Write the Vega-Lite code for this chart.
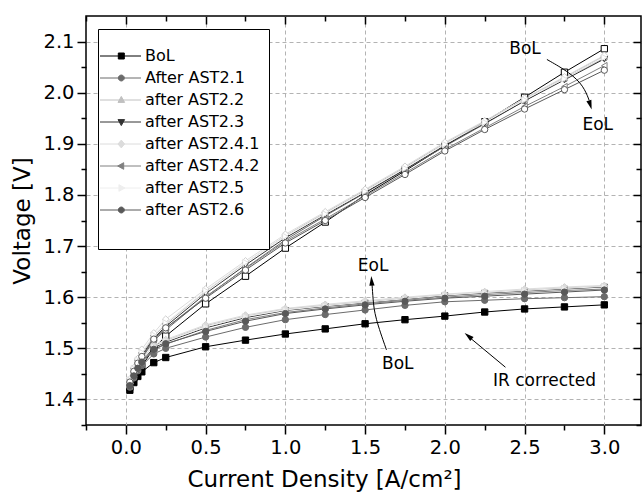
{
  "$schema": "https://vega.github.io/schema/vega-lite/v6.json",
  "width": 555,
  "height": 409,
  "autosize": {"type": "none"},
  "padding": {"left": 86, "top": 16, "right": 1, "bottom": 76},
  "background": "white",
  "config": {
    "view": {"stroke": "black", "strokeWidth": 1.5},
    "font": "DejaVu Sans",
    "axis": {
      "labelFont": "DejaVu Sans", "labelFontSize": 19.5, "labelColor": "black",
      "titleFont": "DejaVu Sans", "titleFontSize": 23, "titleFontWeight": "normal", "titleColor": "black",
      "tickColor": "black", "tickWidth": 1.5, "domain": false,
      "gridColor": "#b3b3b3", "gridDash": [4, 3], "gridWidth": 1
    }
  },
  "datasets": {
    "pol": [
      {"s":"BoL","j":0.025,"r":1.424,"c":1.418},{"s":"BoL","j":0.05,"r":1.442,"c":1.433},{"s":"BoL","j":0.075,"r":1.456,"c":1.445},{"s":"BoL","j":0.1,"r":1.465,"c":1.454},{"s":"BoL","j":0.175,"r":1.500,"c":1.472},{"s":"BoL","j":0.25,"r":1.524,"c":1.482},{"s":"BoL","j":0.5,"r":1.587,"c":1.503},{"s":"BoL","j":0.75,"r":1.641,"c":1.516},{"s":"BoL","j":1.0,"r":1.696,"c":1.528},{"s":"BoL","j":1.25,"r":1.747,"c":1.538},{"s":"BoL","j":1.5,"r":1.800,"c":1.548},{"s":"BoL","j":1.75,"r":1.847,"c":1.556},{"s":"BoL","j":2.0,"r":1.896,"c":1.563},{"s":"BoL","j":2.25,"r":1.943,"c":1.571},{"s":"BoL","j":2.5,"r":1.991,"c":1.577},{"s":"BoL","j":2.75,"r":2.040,"c":1.581},{"s":"BoL","j":3.0,"r":2.086,"c":1.585},
      {"s":"After AST2.1","j":0.025,"r":1.432,"c":1.424},{"s":"After AST2.1","j":0.05,"r":1.452,"c":1.442},{"s":"After AST2.1","j":0.075,"r":1.468,"c":1.456},{"s":"After AST2.1","j":0.1,"r":1.480,"c":1.466},{"s":"After AST2.1","j":0.175,"r":1.515,"c":1.489},{"s":"After AST2.1","j":0.25,"r":1.536,"c":1.500},{"s":"After AST2.1","j":0.5,"r":1.600,"c":1.522},{"s":"After AST2.1","j":0.75,"r":1.657,"c":1.541},{"s":"After AST2.1","j":1.0,"r":1.712,"c":1.556},{"s":"After AST2.1","j":1.25,"r":1.759,"c":1.566},{"s":"After AST2.1","j":1.5,"r":1.804,"c":1.575},{"s":"After AST2.1","j":1.75,"r":1.849,"c":1.584},{"s":"After AST2.1","j":2.0,"r":1.895,"c":1.591},{"s":"After AST2.1","j":2.25,"r":1.939,"c":1.594},{"s":"After AST2.1","j":2.5,"r":1.984,"c":1.597},{"s":"After AST2.1","j":2.75,"r":2.027,"c":1.599},{"s":"After AST2.1","j":3.0,"r":2.068,"c":1.601},
      {"s":"after AST2.2","j":0.025,"r":1.437,"c":1.430},{"s":"after AST2.2","j":0.05,"r":1.458,"c":1.450},{"s":"after AST2.2","j":0.075,"r":1.475,"c":1.466},{"s":"after AST2.2","j":0.1,"r":1.490,"c":1.478},{"s":"after AST2.2","j":0.175,"r":1.524,"c":1.504},{"s":"after AST2.2","j":0.25,"r":1.547,"c":1.515},{"s":"after AST2.2","j":0.5,"r":1.611,"c":1.544},{"s":"after AST2.2","j":0.75,"r":1.667,"c":1.563},{"s":"after AST2.2","j":1.0,"r":1.720,"c":1.577},{"s":"after AST2.2","j":1.25,"r":1.765,"c":1.584},{"s":"after AST2.2","j":1.5,"r":1.809,"c":1.591},{"s":"after AST2.2","j":1.75,"r":1.854,"c":1.598},{"s":"after AST2.2","j":2.0,"r":1.901,"c":1.605},{"s":"after AST2.2","j":2.25,"r":1.944,"c":1.609},{"s":"after AST2.2","j":2.5,"r":1.988,"c":1.614},{"s":"after AST2.2","j":2.75,"r":2.030,"c":1.618},{"s":"after AST2.2","j":3.0,"r":2.072,"c":1.622},
      {"s":"after AST2.3","j":0.025,"r":1.435,"c":1.428},{"s":"after AST2.3","j":0.05,"r":1.456,"c":1.448},{"s":"after AST2.3","j":0.075,"r":1.472,"c":1.463},{"s":"after AST2.3","j":0.1,"r":1.486,"c":1.475},{"s":"after AST2.3","j":0.175,"r":1.520,"c":1.501},{"s":"after AST2.3","j":0.25,"r":1.543,"c":1.512},{"s":"after AST2.3","j":0.5,"r":1.607,"c":1.540},{"s":"after AST2.3","j":0.75,"r":1.663,"c":1.560},{"s":"after AST2.3","j":1.0,"r":1.716,"c":1.574},{"s":"after AST2.3","j":1.25,"r":1.761,"c":1.582},{"s":"after AST2.3","j":1.5,"r":1.805,"c":1.589},{"s":"after AST2.3","j":1.75,"r":1.850,"c":1.596},{"s":"after AST2.3","j":2.0,"r":1.897,"c":1.603},{"s":"after AST2.3","j":2.25,"r":1.940,"c":1.608},{"s":"after AST2.3","j":2.5,"r":1.984,"c":1.612},{"s":"after AST2.3","j":2.75,"r":2.025,"c":1.616},{"s":"after AST2.3","j":3.0,"r":2.066,"c":1.620},
      {"s":"after AST2.4.1","j":0.025,"r":1.440,"c":1.431},{"s":"after AST2.4.1","j":0.05,"r":1.462,"c":1.452},{"s":"after AST2.4.1","j":0.075,"r":1.480,"c":1.468},{"s":"after AST2.4.1","j":0.1,"r":1.498,"c":1.480},{"s":"after AST2.4.1","j":0.175,"r":1.530,"c":1.506},{"s":"after AST2.4.1","j":0.25,"r":1.557,"c":1.517},{"s":"after AST2.4.1","j":0.5,"r":1.616,"c":1.546},{"s":"after AST2.4.1","j":0.75,"r":1.671,"c":1.565},{"s":"after AST2.4.1","j":1.0,"r":1.723,"c":1.578},{"s":"after AST2.4.1","j":1.25,"r":1.767,"c":1.586},{"s":"after AST2.4.1","j":1.5,"r":1.811,"c":1.593},{"s":"after AST2.4.1","j":1.75,"r":1.856,"c":1.600},{"s":"after AST2.4.1","j":2.0,"r":1.903,"c":1.606},{"s":"after AST2.4.1","j":2.25,"r":1.945,"c":1.611},{"s":"after AST2.4.1","j":2.5,"r":1.989,"c":1.616},{"s":"after AST2.4.1","j":2.75,"r":2.031,"c":1.620},{"s":"after AST2.4.1","j":3.0,"r":2.073,"c":1.623},
      {"s":"after AST2.4.2","j":0.025,"r":1.433,"c":1.426},{"s":"after AST2.4.2","j":0.05,"r":1.454,"c":1.446},{"s":"after AST2.4.2","j":0.075,"r":1.470,"c":1.460},{"s":"after AST2.4.2","j":0.1,"r":1.483,"c":1.472},{"s":"after AST2.4.2","j":0.175,"r":1.517,"c":1.497},{"s":"after AST2.4.2","j":0.25,"r":1.539,"c":1.508},{"s":"after AST2.4.2","j":0.5,"r":1.601,"c":1.535},{"s":"after AST2.4.2","j":0.75,"r":1.656,"c":1.556},{"s":"after AST2.4.2","j":1.0,"r":1.709,"c":1.570},{"s":"after AST2.4.2","j":1.25,"r":1.753,"c":1.579},{"s":"after AST2.4.2","j":1.5,"r":1.798,"c":1.587},{"s":"after AST2.4.2","j":1.75,"r":1.843,"c":1.594},{"s":"after AST2.4.2","j":2.0,"r":1.889,"c":1.600},{"s":"after AST2.4.2","j":2.25,"r":1.931,"c":1.605},{"s":"after AST2.4.2","j":2.5,"r":1.973,"c":1.609},{"s":"after AST2.4.2","j":2.75,"r":2.012,"c":1.613},{"s":"after AST2.4.2","j":3.0,"r":2.053,"c":1.616},
      {"s":"after AST2.5","j":0.025,"r":1.438,"c":1.429},{"s":"after AST2.5","j":0.05,"r":1.460,"c":1.449},{"s":"after AST2.5","j":0.075,"r":1.477,"c":1.465},{"s":"after AST2.5","j":0.1,"r":1.492,"c":1.477},{"s":"after AST2.5","j":0.175,"r":1.526,"c":1.503},{"s":"after AST2.5","j":0.25,"r":1.550,"c":1.514},{"s":"after AST2.5","j":0.5,"r":1.613,"c":1.542},{"s":"after AST2.5","j":0.75,"r":1.668,"c":1.562},{"s":"after AST2.5","j":1.0,"r":1.719,"c":1.575},{"s":"after AST2.5","j":1.25,"r":1.763,"c":1.583},{"s":"after AST2.5","j":1.5,"r":1.807,"c":1.590},{"s":"after AST2.5","j":1.75,"r":1.852,"c":1.597},{"s":"after AST2.5","j":2.0,"r":1.899,"c":1.604},{"s":"after AST2.5","j":2.25,"r":1.942,"c":1.609},{"s":"after AST2.5","j":2.5,"r":1.986,"c":1.613},{"s":"after AST2.5","j":2.75,"r":2.027,"c":1.617},{"s":"after AST2.5","j":3.0,"r":2.069,"c":1.621},
      {"s":"after AST2.6","j":0.025,"r":1.434,"c":1.427},{"s":"after AST2.6","j":0.05,"r":1.455,"c":1.446},{"s":"after AST2.6","j":0.075,"r":1.471,"c":1.461},{"s":"after AST2.6","j":0.1,"r":1.484,"c":1.473},{"s":"after AST2.6","j":0.175,"r":1.518,"c":1.498},{"s":"after AST2.6","j":0.25,"r":1.540,"c":1.509},{"s":"after AST2.6","j":0.5,"r":1.598,"c":1.533},{"s":"after AST2.6","j":0.75,"r":1.653,"c":1.553},{"s":"after AST2.6","j":1.0,"r":1.706,"c":1.568},{"s":"after AST2.6","j":1.25,"r":1.750,"c":1.577},{"s":"after AST2.6","j":1.5,"r":1.795,"c":1.585},{"s":"after AST2.6","j":1.75,"r":1.840,"c":1.592},{"s":"after AST2.6","j":2.0,"r":1.886,"c":1.598},{"s":"after AST2.6","j":2.25,"r":1.928,"c":1.602},{"s":"after AST2.6","j":2.5,"r":1.968,"c":1.606},{"s":"after AST2.6","j":2.75,"r":2.006,"c":1.610},{"s":"after AST2.6","j":3.0,"r":2.044,"c":1.614}
    ],
    "labels": [
      {"t":"BoL","j":2.503,"v":2.085},
      {"t":"EoL","j":2.959,"v":1.936},
      {"t":"EoL","j":1.55,"v":1.661},
      {"t":"BoL","j":1.705,"v":1.469},
      {"t":"IR corrected","j":2.625,"v":1.436}
    ],
    "arrows": [
      {"a":1,"k":1,"j":2.64,"v":2.065},{"a":1,"k":2,"j":2.786,"v":2.039},{"a":1,"k":3,"j":2.87,"v":2.013},{"a":1,"k":4,"j":2.905,"v":1.985},
      {"a":2,"k":1,"j":1.634,"v":1.497},{"a":2,"k":2,"j":1.561,"v":1.562},{"a":2,"k":3,"j":1.55,"v":1.595},{"a":2,"k":4,"j":1.543,"v":1.628},
      {"a":3,"k":1,"j":2.38,"v":1.463},{"a":3,"k":2,"j":2.16,"v":1.52}
    ],
    "heads": [
      {"a":1,"j":2.912,"v":1.976},
      {"a":2,"j":1.541,"v":1.632},
      {"a":3,"j":2.147,"v":1.524}
    ]
  },
  "resolve": {"axis": {"x": "independent", "y": "independent"}},
  "layer": [
    {
      "data": {"name": "pol"},
      "mark": {"type": "line", "strokeWidth": 1},
      "encoding": {
        "x": {"field": "j", "type": "quantitative",
          "scale": {"domain": [-0.25, 3.23], "nice": false, "zero": false},
          "axis": {"orient": "bottom", "values": [0, 0.5, 1, 1.5, 2, 2.5, 3], "format": ".1f", "title": "Current Density [A/cm²]", "titleX": 238, "tickSize": 9, "labelPadding": 4, "titlePadding": 12, "grid": true}},
        "y": {"field": "r", "type": "quantitative",
          "scale": {"domain": [1.35, 2.15], "nice": false, "zero": false},
          "axis": {"orient": "left", "values": [1.4, 1.5, 1.6, 1.7, 1.8, 1.9, 2.0, 2.1], "format": ".1f", "title": "Voltage [V]", "tickSize": 9, "labelPadding": 3, "titlePadding": 8, "grid": true}},
        "color": {"field": "s", "type": "nominal",
          "scale": {"domain": ["BoL","After AST2.1","after AST2.2","after AST2.3","after AST2.4.1","after AST2.4.2","after AST2.5","after AST2.6"," "],
                    "range": ["#000000","#6b6b6b","#c0c0c0","#333333","#dcdcdc","#808080","#eeeeee","#595959","#ffffff"]},
          "legend": {
            "orient": "none", "legendX": 12, "legendY": 13,
            "title": " ", "titleFontSize": 8, "titlePadding": 2,
            "padding": 9, "strokeColor": "black", "fillColor": "white",
            "symbolSize": 36, "symbolStrokeWidth": 1,
            "labelFont": "DejaVu Sans", "labelFontSize": 16, "labelColor": "black", "labelOffset": 22,
            "rowPadding": 6, "labelLimit": 300,
            "encode": {
              "symbols": {
                "update": {
                  "shape": {"signal": "datum.value === ' ' ? 'M0,0' : datum.value === 'BoL' ? 'M-5,0H8.67M1.1,-1H3.1V1H1.1Z' : (datum.value === 'After AST2.1' || datum.value === 'after AST2.6') ? 'M-5,0H8.67M3.1,0L2.97,0.5L2.6,0.87L2.1,1L1.6,0.87L1.23,0.5L1.1,0L1.23,-0.5L1.6,-0.87L2.1,-1L2.6,-0.87L2.97,-0.5Z' : datum.value === 'after AST2.2' ? 'M-5,0H8.67M2.1,-1.2L3.2,0.8L1,0.8Z' : datum.value === 'after AST2.3' ? 'M-5,0H8.67M2.1,1.2L3.2,-0.8L1,-0.8Z' : datum.value === 'after AST2.4.1' ? 'M-5,0H8.67M2.1,-1.3L3.2,0L2.1,1.3L1,0Z' : datum.value === 'after AST2.4.2' ? 'M-5,0H8.67M0.9,0L2.9,-1.1L2.9,1.1Z' : 'M-5,0H8.67M3.3,0L1.3,-1.1L1.3,1.1Z'"},
                  "fill": {"scale": "color", "field": "value"},
                  "stroke": {"scale": "color", "field": "value"},
                  "strokeWidth": {"value": 1},
                  "size": {"value": 36},
                  "opacity": {"value": 1}
                }
              }
            }
          }},
        "order": {"field": "j", "type": "quantitative"}
      }
    },
    {
      "data": {"name": "pol"},
      "mark": {"type": "line", "strokeWidth": 1},
      "encoding": {
        "x": {"field": "j", "type": "quantitative",
          "axis": {"orient": "top", "values": [0, 0.5, 1, 1.5, 2, 2.5, 3], "labels": false, "title": null, "tickSize": -8, "grid": false}},
        "y": {"field": "c", "type": "quantitative",
          "axis": {"orient": "right", "values": [1.4, 1.5, 1.6, 1.7, 1.8, 1.9, 2.0, 2.1], "labels": false, "title": null, "tickSize": -8, "grid": false}},
        "color": {"field": "s", "type": "nominal"},
        "order": {"field": "j", "type": "quantitative"}
      }
    },
    {
      "data": {"name": "pol"},
      "transform": [{"filter": "datum.s === 'BoL'"}, {"fold": ["r", "c"], "as": ["k", "v"]}],
      "mark": {"type": "point", "shape": "square", "filled": true, "stroke": "#000000", "strokeWidth": 1, "size": 40, "opacity": 1},
      "encoding": {
        "x": {"field": "j", "type": "quantitative",
          "axis": {"orient": "bottom", "values": [-0.25, 0.25, 0.75, 1.25, 1.75, 2.25, 2.75], "labels": false, "title": null, "tickSize": 5, "grid": false}},
        "y": {"field": "v", "type": "quantitative",
          "axis": {"orient": "left", "values": [1.35, 1.45, 1.55, 1.65, 1.75, 1.85, 1.95, 2.05], "labels": false, "title": null, "tickSize": 5, "grid": false}},
        "fill": {"condition": {"test": "datum.k === 'r'", "value": "white"}, "value": "#000000"}
      }
    },
    {
      "data": {"name": "pol"},
      "transform": [{"filter": "datum.s === 'After AST2.1'"}, {"fold": ["r", "c"], "as": ["k", "v"]}],
      "mark": {"type": "point", "shape": "circle", "filled": true, "stroke": "#6b6b6b", "strokeWidth": 1, "size": 40, "opacity": 1},
      "encoding": {
        "x": {"field": "j", "type": "quantitative",
          "axis": {"orient": "top", "values": [-0.25, 0.25, 0.75, 1.25, 1.75, 2.25, 2.75], "labels": false, "title": null, "tickSize": -5, "grid": false}},
        "y": {"field": "v", "type": "quantitative",
          "axis": {"orient": "right", "values": [1.35, 1.45, 1.55, 1.65, 1.75, 1.85, 1.95, 2.05], "labels": false, "title": null, "tickSize": -5, "grid": false}},
        "fill": {"condition": {"test": "datum.k === 'r'", "value": "white"}, "value": "#6b6b6b"}
      }
    },
    {
      "data": {"name": "pol"},
      "transform": [{"filter": "datum.s === 'after AST2.2'"}, {"fold": ["r", "c"], "as": ["k", "v"]}],
      "mark": {"type": "point", "shape": "triangle-up", "filled": true, "stroke": "#c0c0c0", "strokeWidth": 1, "size": 40, "opacity": 1},
      "encoding": {
        "x": {"field": "j", "type": "quantitative", "axis": null},
        "y": {"field": "v", "type": "quantitative", "axis": null},
        "fill": {"condition": {"test": "datum.k === 'r'", "value": "white"}, "value": "#c0c0c0"}
      }
    },
    {
      "data": {"name": "pol"},
      "transform": [{"filter": "datum.s === 'after AST2.3'"}, {"fold": ["r", "c"], "as": ["k", "v"]}],
      "mark": {"type": "point", "shape": "triangle-down", "filled": true, "stroke": "#333333", "strokeWidth": 1, "size": 40, "opacity": 1},
      "encoding": {
        "x": {"field": "j", "type": "quantitative", "axis": null},
        "y": {"field": "v", "type": "quantitative", "axis": null},
        "fill": {"condition": {"test": "datum.k === 'r'", "value": "white"}, "value": "#333333"}
      }
    },
    {
      "data": {"name": "pol"},
      "transform": [{"filter": "datum.s === 'after AST2.4.1'"}, {"fold": ["r", "c"], "as": ["k", "v"]}],
      "mark": {"type": "point", "shape": "diamond", "filled": true, "stroke": "#d0d0d0", "strokeWidth": 1, "size": 45, "opacity": 1},
      "encoding": {
        "x": {"field": "j", "type": "quantitative", "axis": null},
        "y": {"field": "v", "type": "quantitative", "axis": null},
        "fill": {"condition": {"test": "datum.k === 'r'", "value": "white"}, "value": "#dcdcdc"}
      }
    },
    {
      "data": {"name": "pol"},
      "transform": [{"filter": "datum.s === 'after AST2.4.2'"}, {"fold": ["r", "c"], "as": ["k", "v"]}],
      "mark": {"type": "point", "shape": "triangle-left", "filled": true, "stroke": "#808080", "strokeWidth": 1, "size": 40, "opacity": 1},
      "encoding": {
        "x": {"field": "j", "type": "quantitative", "axis": null},
        "y": {"field": "v", "type": "quantitative", "axis": null},
        "fill": {"condition": {"test": "datum.k === 'r'", "value": "white"}, "value": "#808080"}
      }
    },
    {
      "data": {"name": "pol"},
      "transform": [{"filter": "datum.s === 'after AST2.5'"}, {"fold": ["r", "c"], "as": ["k", "v"]}],
      "mark": {"type": "point", "shape": "triangle-right", "filled": true, "stroke": "#e0e0e0", "strokeWidth": 1, "size": 40, "opacity": 1},
      "encoding": {
        "x": {"field": "j", "type": "quantitative", "axis": null},
        "y": {"field": "v", "type": "quantitative", "axis": null},
        "fill": {"condition": {"test": "datum.k === 'r'", "value": "white"}, "value": "#eeeeee"}
      }
    },
    {
      "data": {"name": "pol"},
      "transform": [{"filter": "datum.s === 'after AST2.6'"}, {"fold": ["r", "c"], "as": ["k", "v"]}],
      "mark": {"type": "point", "shape": "circle", "filled": true, "stroke": "#595959", "strokeWidth": 1, "size": 40, "opacity": 1},
      "encoding": {
        "x": {"field": "j", "type": "quantitative", "axis": null},
        "y": {"field": "v", "type": "quantitative", "axis": null},
        "fill": {"condition": {"test": "datum.k === 'r'", "value": "white"}, "value": "#595959"}
      }
    },
    {
      "data": {"name": "labels"},
      "mark": {"type": "text", "font": "DejaVu Sans", "fontSize": 17, "color": "black", "align": "center", "baseline": "middle"},
      "encoding": {
        "x": {"field": "j", "type": "quantitative", "axis": null},
        "y": {"field": "v", "type": "quantitative", "axis": null},
        "text": {"field": "t"}
      }
    },
    {
      "data": {"name": "arrows"},
      "mark": {"type": "line", "color": "black", "strokeWidth": 1, "interpolate": "basis"},
      "encoding": {
        "x": {"field": "j", "type": "quantitative", "axis": null},
        "y": {"field": "v", "type": "quantitative", "axis": null},
        "detail": {"field": "a"},
        "order": {"field": "k", "type": "quantitative"}
      }
    },
    {
      "data": {"name": "heads"},
      "transform": [{"filter": "datum.a === 1"}],
      "mark": {"type": "point", "filled": true, "color": "black", "opacity": 1, "shape": "M0,-1L0.55,1L-0.55,1Z", "size": 90, "angle": 163},
      "encoding": {
        "x": {"field": "j", "type": "quantitative", "axis": null},
        "y": {"field": "v", "type": "quantitative", "axis": null}
      }
    },
    {
      "data": {"name": "heads"},
      "transform": [{"filter": "datum.a === 2"}],
      "mark": {"type": "point", "filled": true, "color": "black", "opacity": 1, "shape": "M0,-1L0.55,1L-0.55,1Z", "size": 90, "angle": 356},
      "encoding": {
        "x": {"field": "j", "type": "quantitative", "axis": null},
        "y": {"field": "v", "type": "quantitative", "axis": null}
      }
    },
    {
      "data": {"name": "heads"},
      "transform": [{"filter": "datum.a === 3"}],
      "mark": {"type": "point", "filled": true, "color": "black", "opacity": 1, "shape": "M0,-1L0.55,1L-0.55,1Z", "size": 90, "angle": 310},
      "encoding": {
        "x": {"field": "j", "type": "quantitative", "axis": null},
        "y": {"field": "v", "type": "quantitative", "axis": null}
      }
    }
  ]
}
